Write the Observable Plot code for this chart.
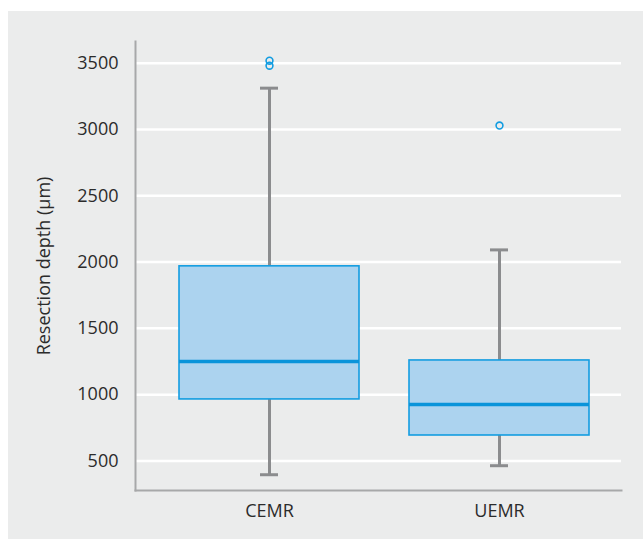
<!DOCTYPE html>
<html>
<head>
<meta charset="utf-8">
<script src="https://cdn.jsdelivr.net/npm/d3@7"></script>
<script src="https://cdn.jsdelivr.net/npm/@observablehq/plot@0.6"></script>
<style>
  html, body { margin: 0; padding: 0; background: #ffffff; }
  #panel { position: absolute; left: 8px; top: 11px; width: 635px; height: 528px; background: #ebecec; }
  svg { display: block; }
</style>
</head>
<body>
<div id="panel"></div>
<script>
// Data
const groups = ["CEMR", "UEMR"];
const whiskerLow = [396, 464];
const q1 = [964, 692];
const median = [1250, 926];
const q3 = [1968, 1258];
const whiskerHigh = [3312, 2092];
const outlierGroup = ["CEMR", "CEMR", "UEMR"];
const outlierValue = [3481, 3519, 3030];
const yTicks = [500, 1000, 1500, 2000, 2500, 3000, 3500];

const boxes = groups.map((g, i) => ({
  group: g, low: whiskerLow[i], q1: q1[i], median: median[i], q3: q3[i], high: whiskerHigh[i]
}));
const outliers = outlierGroup.map((g, i) => ({group: g, value: outlierValue[i]}));

const fill = "#acd3ef";
const blue = "#139de1";
const gray = "#8b8c8e";

const chart = Plot.plot({
  width: 635,
  height: 528,
  marginLeft: 127,
  marginRight: 22,
  marginTop: 30,
  marginBottom: 49,
  style: {background: "transparent", fontFamily: "'Open Sans', sans-serif", fontSize: "18px", color: "#2b2b2b"},
  x: {type: "band", domain: groups, paddingInner: 0.2175, paddingOuter: 0.1634, align: 0.575, label: null},
  y: {domain: [277, 3664], ticks: yTicks},
  marks: [
    Plot.ruleY(yTicks, {stroke: "#ffffff", strokeWidth: 2.5}),
    Plot.frame({anchor: "left", stroke: "#a7a8a9", strokeWidth: 2}),
    Plot.frame({anchor: "bottom", stroke: "#a7a8a9", strokeWidth: 2}),
    Plot.ruleX(boxes, {x: "group", y1: "q3", y2: "high", stroke: gray, strokeWidth: 3}),
    Plot.ruleX(boxes, {x: "group", y1: "low", y2: "q1", stroke: gray, strokeWidth: 3}),
    Plot.tickY(boxes, {x: "group", y: "high", stroke: gray, strokeWidth: 3, insetLeft: 81, insetRight: 81}),
    Plot.tickY(boxes, {x: "group", y: "low", stroke: gray, strokeWidth: 3, insetLeft: 81, insetRight: 81}),
    Plot.barY(boxes, {x: "group", y1: "q1", y2: "q3", fill: fill, stroke: blue, strokeWidth: 1.6}),
    Plot.tickY(boxes, {x: "group", y: "median", stroke: "#0a94da", strokeWidth: 3.5}),
    Plot.dot(outliers, {x: "group", y: "value", r: 3.4, stroke: blue, strokeWidth: 1.6, fill: "none"}),
    Plot.axisY({ticks: yTicks, tickFormat: d => String(d), tickSize: 0, tickPadding: 17, label: "Resection depth (µm)", labelAnchor: "center", labelArrow: "none", labelOffset: 98, fontSize: 18}),
    Plot.axisX({tickSize: 0, tickPadding: 14, label: null, fontSize: 18})
  ]
});
document.getElementById("panel").appendChild(chart);
</script>
</body>
</html>
